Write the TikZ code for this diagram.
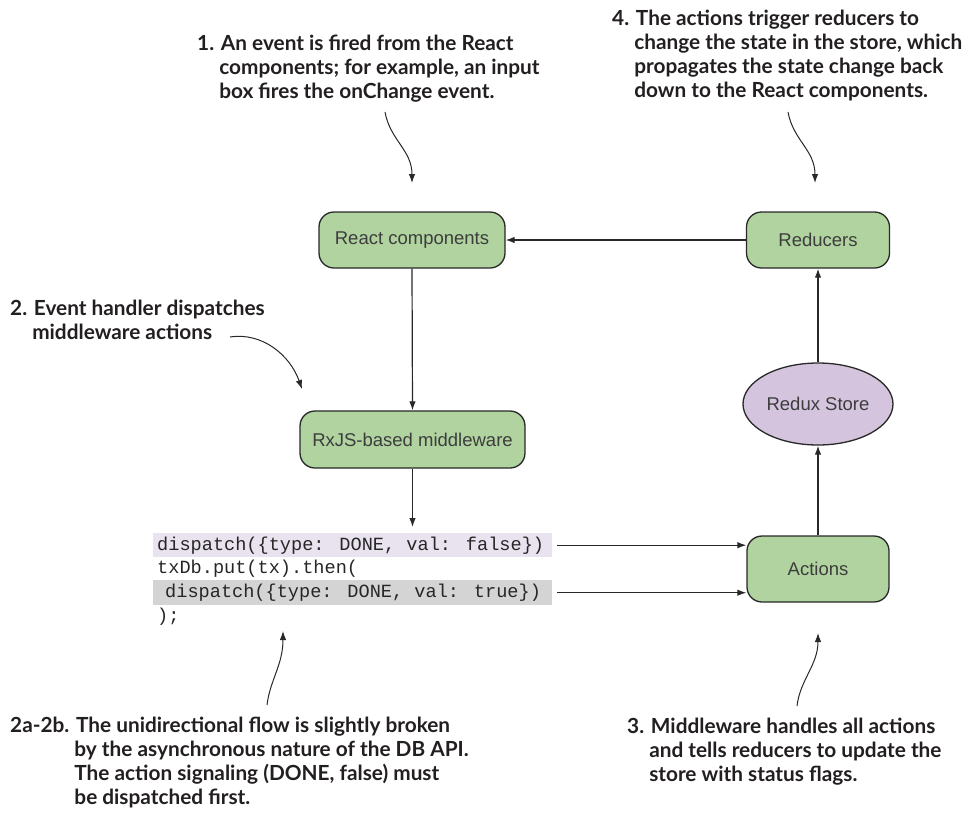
\documentclass[tikz,border=0pt]{standalone}
\usepackage{fontspec}
\setmainfont{Lato}
\newfontfamily\nodefont{Liberation Sans}
\newfontfamily\codefont{Liberation Mono}
\usetikzlibrary{arrows.meta,shapes.geometric}
\definecolor{boxgreen}{RGB}{176,211,160}
\definecolor{storepurple}{RGB}{212,196,222}
\definecolor{hllav}{RGB}{233,226,239}
\definecolor{hlgray}{RGB}{212,212,212}
\definecolor{inkdark}{RGB}{40,40,40}
\definecolor{anntext}{RGB}{35,31,32}
\tikzset{
  box/.style={draw=inkdark, line width=1.3pt, fill=boxgreen, rounded corners=15pt,
    inner sep=0pt, text=inkdark!90, font=\nodefont\fontsize{18.5}{22}\selectfont},
  storebox/.style={ellipse, draw=inkdark, line width=1.3pt, fill=storepurple,
    inner sep=0pt, text=inkdark!90, font=\nodefont\fontsize{18.5}{22}\selectfont},
  flow/.style={draw=inkdark, line width=1.2pt, -{Latex[length=9pt,width=6.5pt]}},
  note/.style={anchor=base west, align=left, inner sep=0pt, text=anntext,
    font=\bfseries\fontsize{20.8}{24.2}\selectfont},
  codeline/.style={anchor=base west, inner sep=0pt, text=black!85,
    font=\codefont\fontsize{18.6}{22}\selectfont},
  hlbox/.style={anchor=north west, inner sep=0pt, draw=none, minimum width=399pt, minimum height=24pt}
}
\begin{document}
\begin{tikzpicture}[x=1pt,y=-1pt]
\useasboundingbox (0,0) rectangle (978,815);

% main nodes
\node[box, minimum width=186pt, minimum height=56pt] (rc) at (412,240) {React components};
\node[box, minimum width=143pt, minimum height=56pt] (red) at (818,240) {Reducers};
\node[box, minimum width=225pt, minimum height=57pt] (rx) at (412.5,439.5) {RxJS-based middleware};
\node[storebox, minimum width=150pt, minimum height=82pt] (rs) at (818,404) {Redux Store};
\node[box, minimum width=142pt, minimum height=66pt] (act) at (818,569) {Actions};

% code block
\node[hlbox, fill=hllav, minimum height=24pt] (hl1) at (153,533) {};
\node[hlbox, fill=hlgray, minimum height=25pt] (hl3) at (153,580) {};
\node[codeline] (c1) at (157,550) {dispatch(\{type: DONE, val: false\})};
\node[codeline] (c2) at (157,573.5) {txDb.put(tx).then(};
\node[codeline] (c3) at (165,597) {dispatch(\{type: DONE, val: true\})};
\node[codeline] (c4) at (157,621) {);};

% flow connectors
\draw[flow] (red.west) -- (rc.east);
\draw[flow] (rc.south) -- (rx.north);
\coordinate (codetop) at (412.5,527);
\draw[flow] (rx.south) -- (codetop);
\draw[flow] ([xshift=5pt]hl1.east) -- (hl1.east -| act.west);
\draw[flow] ([xshift=5pt]hl3.east) -- (hl3.east -| act.west);
\draw[flow] (act.north) -- (rs.south);
\draw[flow] (rs.north) -- (red.south);

% annotations (anchor = baseline of the last line)
\node[note] (n1) at (197,98.4) {1. An event is fired from the React\\\phantom{1.} components; for example, an input\\\phantom{1.} box fires the onChange event.};
\node[note] (n4) at (612,97.6) {4. The actions trigger reducers to\\\phantom{4.} change the state in the store, which\\\phantom{4.} propagates the state change back\\\phantom{4.} down to the React components.};
\node[note] (n2) at (10,339.2) {2. Event handler dispatches\\\phantom{2.} middleware actions};
\node[note] (n2a) at (10,804.6) {2a-2b. The unidirectional flow is slightly broken\\\phantom{2a-2b.} by the asynchronous nature of the DB API.\\\phantom{2a-2b.} The action signaling (DONE, false) must\\\phantom{2a-2b.} be dispatched first.};
\node[note] (n3) at (627,781.4) {3. Middleware handles all actions\\\phantom{3.} and tells reducers to update the\\\phantom{3.} store with status flags.};

% annotation pointers
\coordinate (p1s) at (385,112); \coordinate (p1e) at (412,183);
\coordinate (p4s) at (788,112); \coordinate (p4e) at (815,183);
\coordinate (p2s) at (230,337); \coordinate (p2e) at (302,389);
\coordinate (p2as) at (267,705); \coordinate (p2ae) at (283,631);
\coordinate (p3s) at (797,706); \coordinate (p3e) at (818,633);
\draw[flow, line width=1pt] (p1s) .. controls (390,140) and (412,150) .. (p1e);
\draw[flow, line width=1pt] (p4s) .. controls (793,140) and (815,150) .. (p4e);
\draw[flow, line width=1pt] (p2s) .. controls (262,332) and (290,355) .. (p2e);
\draw[flow, line width=1pt] (p2as) .. controls (270,680) and (283,665) .. (p2ae);
\draw[flow, line width=1pt] (p3s) .. controls (800,680) and (818,665) .. (p3e);
\end{tikzpicture}
\end{document}
